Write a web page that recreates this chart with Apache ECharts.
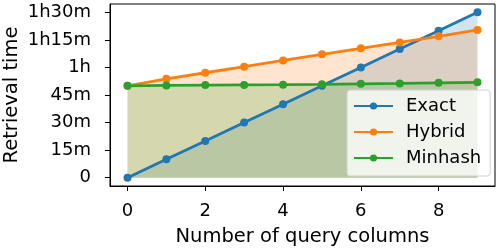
<!DOCTYPE html>
<html>
<head>
<meta charset="utf-8">
<script src="https://cdn.jsdelivr.net/npm/echarts@6/dist/echarts.min.js"></script>
<style>
  html, body { margin: 0; padding: 0; background: #fff; }
  #chart { width: 500px; height: 250px; }
</style>
</head>
<body>
<div id="chart"></div>
<script>
// data (minutes)
var queryColumns = [0, 1, 2, 3, 4, 5, 6, 7, 8, 9];
var exactTime = [0, 10, 20, 30, 40, 50, 60, 70, 80, 90];
var hybridTime = [50, 53.8, 57.1, 60.4, 63.8, 67.1, 70.4, 73.6, 76.9, 80.4];
var minhashTime = [50, 50.2, 50.4, 50.5, 50.6, 50.8, 51.1, 51.3, 51.6, 51.9];
var yTicks = [0, 15, 30, 45, 60, 75, 90];
var yTickLabels = ['0', '15m', '30m', '45m', '1h', '1h15m', '1h30m'];
var xTicks = [0, 2, 4, 6, 8];

var FONT = 'DejaVu Sans';
var FS = 18;
var NAME_FS = 19.5;

function pairs(ys) {
    return queryColumns.map(function (x, i) { return [x, ys[i]]; });
}

function mkSeries(name, ys, color) {
    return {
        name: name,
        type: 'line',
        data: pairs(ys),
        symbol: 'circle',
        symbolSize: 8,
        showSymbol: true,
        lineStyle: { color: color, width: 2.8 },
        itemStyle: { color: color },
        areaStyle: { color: color, opacity: 0.2, origin: 0 },
        emphasis: { disabled: true },
        animation: false
    };
}

var chart = echarts.init(document.getElementById('chart'), null, { renderer: 'canvas' });
var option = {
    animation: false,
    grid: {
        left: 110, right: 5, top: 4, bottom: 64,
        outerBoundsMode: 'none',
        containLabel: false,
        show: true, borderColor: '#000', borderWidth: 1, backgroundColor: 'transparent'
    },
    legend: {
        orient: 'vertical',
        left: 347, top: 90,
        padding: [7, 9, 9, 6],
        itemGap: 8,
        itemWidth: 39,
        itemHeight: 9,
        backgroundColor: 'rgba(255,255,255,0.8)',
        borderColor: '#d0d0d0',
        borderWidth: 1,
        borderRadius: 3,
        textStyle: { fontFamily: FONT, fontSize: FS, color: '#000', padding: [0, 0, 0, 8] },
        data: ['Exact', 'Hybrid', 'Minhash']
    },
    xAxis: {
        type: 'value',
        min: -0.45, max: 9.45,
        name: 'Number of query columns',
        nameLocation: 'middle',
        nameMoveOverlap: false,
        nameGap: 41,
        nameTextStyle: { fontFamily: FONT, fontSize: NAME_FS, color: '#000' },
        axisLine: { show: true, onZero: false, lineStyle: { color: '#000', width: 1 } },
        axisTick: { show: true, length: 5, lineStyle: { color: '#000' }, customValues: xTicks },
        axisLabel: { fontFamily: FONT, fontSize: FS, color: '#000', margin: 16, customValues: xTicks },
        splitLine: { show: false }
    },
    yAxis: {
        type: 'value',
        min: -4.5, max: 94.5,
        name: 'Retrieval time',
        nameLocation: 'middle',
        nameMoveOverlap: false,
        nameGap: 88,
        nameTextStyle: { fontFamily: FONT, fontSize: NAME_FS, color: '#000' },
        axisLine: { show: true, onZero: false, lineStyle: { color: '#000', width: 1 } },
        axisTick: { show: true, length: 5, lineStyle: { color: '#000' }, customValues: yTicks },
        axisLabel: {
            fontFamily: FONT, fontSize: FS, color: '#000', margin: 19, customValues: yTicks,
            formatter: function (v) {
                var i = yTicks.indexOf(v);
                return i >= 0 ? yTickLabels[i] : '';
            }
        },
        splitLine: { show: false }
    },
    series: [
        mkSeries('Exact', exactTime, '#1f77b4'),
        mkSeries('Hybrid', hybridTime, '#ff7f0e'),
        mkSeries('Minhash', minhashTime, '#2ca02c')
    ]
};
chart.setOption(option);
</script>
</body>
</html>
